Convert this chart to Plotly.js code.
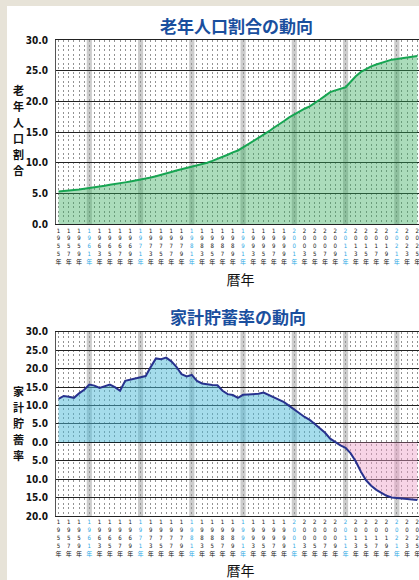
<!DOCTYPE html>
<html><head><meta charset="utf-8">
<script src="https://cdn.plot.ly/plotly-3.0.1.min.js"></script>
<style>
html,body{margin:0;padding:0;width:419px;height:580px;overflow:hidden;background:#e7e3d8;}
#chart{position:absolute;left:7px;top:6px;width:430px;height:574px;}
</style></head><body><div id="chart"></div>
<script>
// Years (categories)
const years = [1955,1956,1957,1958,1959,1960,1961,1962,1963,1964,1965,1966,1967,1968,1969,
  1970,1971,1972,1973,1974,1975,1976,1977,1978,1979,1980,1981,1982,1983,1984,1985,1986,1987,
  1988,1989,1990,1991,1992,1993,1994,1995,1996,1997,1998,1999,2000,2001,2002,2003,2004,2005,
  2006,2007,2008,2009,2010,2011,2012,2013,2014,2015,2016,2017,2018,2019,2020,2021,2022,2023,
  2024,2025];
// 老年人口割合 (%)
const elderlyRatio = [5.3,5.35,5.45,5.55,5.65,5.75,5.9,6.0,6.15,6.25,6.4,6.5,6.65,6.8,6.95,
  7.1,7.2,7.4,7.6,7.8,8.0,8.25,8.5,8.75,8.95,9.2,9.4,9.6,9.8,10.0,10.3,10.6,10.95,
  11.3,11.7,12.0,12.5,13.0,13.5,14.0,14.5,15.1,15.7,16.2,16.8,17.4,17.9,18.4,18.8,19.2,19.7,
  20.3,20.9,21.5,21.8,22.0,22.3,23.2,24.1,24.8,25.3,25.7,26.0,26.3,26.6,26.8,26.9,27.0,27.1,
  27.25,27.4];
// 家計貯蓄率 (%)
const savingRate = [11.8,12.6,12.4,12.1,13.3,14.3,15.7,15.4,14.8,15.3,15.7,15.0,14.0,16.7,17.0,
  17.5,17.7,18.0,20.5,22.8,22.6,23.0,22.0,20.5,18.5,17.9,18.3,16.7,16.0,15.7,15.6,15.5,14.0,
  13.1,12.85,12.1,12.9,13.0,13.0,13.2,13.5,12.9,12.2,11.7,10.9,9.9,9.0,7.9,6.9,6.1,5.0,
  3.8,2.6,1.0,0.0,-0.8,-1.5,-3.0,-5.2,-8.0,-10.3,-11.8,-12.9,-13.8,-14.5,-14.95,-15.1,-15.2,-15.35,
  -15.5,-15.65];
// tick labels
const tickYears = years.filter((y, i) => i % 2 === 0);
const highlightYears = [1961,1971,1981,1991,2001,2011,2021];
const yTicks1 = [0,5,10,15,20,25,30];
const yTicks2 = [-20,-15,-10,-5,0,5,10,15,20,25,30];
const yTitle1 = '老年人口割合';
const yTitle2 = '家計貯蓄率';

const tickText = tickYears.map(y => {
  const chars = String(y).split('').concat('年');
  const col = highlightYears.includes(y) ? '#2aa8e4' : '#111111';
  return chars.map(c => '<span style="color:' + col + '">' + c + '</span>').join('<br>');
});

const numFont = {family:'Liberation Sans Narrow, DejaVu Sans Condensed, Liberation Sans, sans-serif', size:10, color:'#111', weight:'bold'};
const xFont = {family:'Liberation Sans Narrow, DejaVu Sans Condensed, Liberation Sans, Noto Sans CJK JP, sans-serif', size:6, color:'#111'};
const cjk = 'Noto Sans CJK JP, sans-serif';

const traces = [
  {x: years, y: elderlyRatio, type:'scatter', mode:'lines', fill:'tozeroy',
   fillcolor:'rgba(55,172,92,0.42)', line:{color:'#17a552', width:2}, xaxis:'x', yaxis:'y', hoverinfo:'skip'},
  {x: years, y: savingRate.map(v => Math.max(v, 0)), type:'scatter', mode:'lines', fill:'tozeroy',
   fillcolor:'rgba(75,185,215,0.5)', line:{width:0, color:'rgba(0,0,0,0)'}, xaxis:'x2', yaxis:'y2', hoverinfo:'skip'},
  {x: years, y: savingRate.map(v => Math.min(v, 0)), type:'scatter', mode:'lines', fill:'tozeroy',
   fillcolor:'rgba(238,160,200,0.45)', line:{width:0, color:'rgba(0,0,0,0)'}, xaxis:'x2', yaxis:'y2', hoverinfo:'skip'},
  {x: years, y: savingRate, type:'scatter', mode:'lines', line:{color:'#27328e', width:2},
   xaxis:'x2', yaxis:'y2', hoverinfo:'skip'}
];

const shapes = [];
['x','x2'].forEach(xr => {
  highlightYears.forEach(y => {
    shapes.push({type:'rect', xref:xr, yref:(xr === 'x' ? 'y domain' : 'y2 domain'),
      x0:y - 0.5, x1:y + 0.5, y0:0, y1:1, fillcolor:'#cdcdcd', line:{width:0}, layer:'below'});
  });
});

const xCommon = {
  range:[1954.5, 2026.5], tickmode:'array', tickvals:tickYears, ticktext:tickText, tickangle:0,
  tickfont:xFont, ticks:'', showgrid:true, gridcolor:'#939393', griddash:'2px,2.5px', gridwidth:1,
  minor:{tickmode:'linear', tick0:1955, dtick:1, showgrid:true, gridcolor:'#939393', griddash:'2px,2.5px', gridwidth:1},
  showline:true, linecolor:'#222', linewidth:1.2, mirror:true, zeroline:false, fixedrange:true,
  title:{text:'暦年', font:{family:cjk, size:14, color:'#111'}, standoff:10}
};

// stacked (vertical) axis titles, one annotation per character
function stackedTitle(str, xPaper, yPaper, pitch) {
  const chars = str.split('');
  const mid = (chars.length - 1) / 2;
  return chars.map((c, i) => ({
    text:c, xref:'paper', yref:'paper', x:xPaper, y:yPaper, xanchor:'center', yanchor:'middle',
    yshift:-(i - mid) * pitch, showarrow:false, borderpad:0,
    font:{family:cjk, size:11, color:'#111', weight:'bold'}
  }));
}

const layout = {
  width:430, height:574,
  margin:{l:49, r:11.6, t:34, b:64.3},
  paper_bgcolor:'#ffffff', plot_bgcolor:'#ffffff', showlegend:false,
  xaxis: Object.assign({}, xCommon, {anchor:'y'}),
  xaxis2: Object.assign({}, xCommon, {anchor:'y2'}),
  yaxis: {domain:[0.6132,1], anchor:'x', range:[0,30], tickmode:'array', tickvals:yTicks1,
    ticktext:yTicks1.map(v => v.toFixed(1)), tickfont:numFont, ticks:'', ticklabelstandoff:5,
    showgrid:true, gridcolor:'#222', gridwidth:1, zeroline:false, showline:true, linecolor:'#555', linewidth:1, fixedrange:true},
  yaxis2: {domain:[0,0.3868], anchor:'x2', range:[-20,30], tickmode:'array', tickvals:yTicks2,
    ticktext:yTicks2.map(v => Math.abs(v).toFixed(1)), tickfont:numFont, ticks:'', ticklabelstandoff:5,
    showgrid:true, gridcolor:'#222', gridwidth:1, zeroline:true, zerolinecolor:'#111', zerolinewidth:1.4,
    showline:true, linecolor:'#555', linewidth:1, fixedrange:true},
  shapes: shapes,
  annotations: [
    {text:'老年人口割合の動向', xref:'paper', yref:'paper', x:0.49, y:1.0315, xanchor:'center', yanchor:'middle',
     showarrow:false, font:{family:cjk, size:17, color:'#1a4f9e', weight:'bold'}},
    {text:'家計貯蓄率の動向', xref:'paper', yref:'paper', x:0.4927, y:0.4183, xanchor:'center', yanchor:'middle',
     showarrow:false, font:{family:cjk, size:17, color:'#1a4f9e', weight:'bold'}}
  ].concat(stackedTitle(yTitle1, -0.1029, 0.8108, 16), stackedTitle(yTitle2, -0.1029, 0.1949, 16))
};

Plotly.newPlot('chart', traces, layout, {staticPlot:true, displayModeBar:false});
</script></body></html>
